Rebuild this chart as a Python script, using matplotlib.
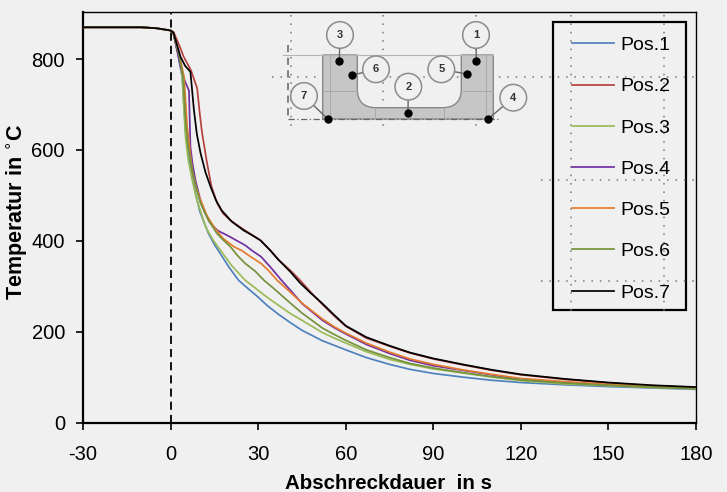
import matplotlib
matplotlib.use("Agg")
import matplotlib.pyplot as plt
from matplotlib.path import Path
from matplotlib.patches import PathPatch, Circle, Rectangle

plt.rcParams['font.family'] = ['Liberation Sans', 'DejaVu Sans']
BG = '#f0f0f0'

x_ticks = [-30, 0, 30, 60, 90, 120, 150, 180]
x_tick_labels = ['-30', '0', '30', '60', '90', '120', '150', '180']
y_ticks = [0, 200, 400, 600, 800]
labels = ['Pos.1', 'Pos.2', 'Pos.3', 'Pos.4', 'Pos.5', 'Pos.6', 'Pos.7']
colors = ['#4f81bd', '#b5413e', '#9bbb59', '#7030a0', '#e67a2e', '#76923c', '#000000']

pre_t = [-30, -10, -5, 0]
pre_T = [870, 870, 868, 863]
tail_t = [52, 56, 60, 67, 75, 82, 90, 100, 110, 120, 135, 150, 165, 180]

t1 = [1, 2.5, 4, 5.1, 6, 7.4, 8.5, 10, 11.5, 13, 15, 17, 20, 23.3, 26.5, 30, 33, 37, 41, 45]
T1 = [855, 815, 760, 640, 590, 540, 505, 465, 440, 416, 392, 372, 342, 313, 295, 276, 258, 238, 220, 203]
tail1 = [180, 170, 160, 143, 128, 117, 108, 100, 93, 88, 83, 79, 76, 73]

t2 = [1, 3, 4.5, 7, 9.1, 10, 10.8, 12.5, 14, 16, 18, 20.5, 25, 30.8, 34, 37, 41, 44.4, 48]
T2 = [860, 830, 805, 775, 736, 680, 637, 571, 520, 482, 460, 445, 425, 401, 380, 358, 335, 313, 287]
tail2 = [260, 235, 212, 186, 168, 153, 140, 127, 115, 105, 95, 87, 81, 77]

t3 = [1, 2.5, 4, 5.1, 6, 7.4, 9, 12, 14.5, 17, 21, 25.6, 30, 33, 37, 41, 45]
T3 = [855, 815, 761, 629, 580, 534, 490, 431, 402, 380, 345, 313, 291, 276, 258, 240, 225]
tail3 = [198, 186, 175, 156, 139, 128, 118, 109, 100, 92, 85, 81, 77, 74]

t4 = [1, 3.4, 5, 6.3, 6.8, 7.5, 8.5, 10, 11.4, 13.5, 16, 20, 25.6, 28, 31, 34.5, 38, 41.5, 45]
T4 = [855, 783, 750, 731, 607, 570, 534, 495, 467, 440, 423, 410, 390, 378, 365, 340, 313, 288, 262]
tail4 = [225, 209, 195, 172, 152, 137, 125, 115, 105, 95, 88, 83, 79, 75]

t5 = [1, 3, 4.6, 5.7, 7.4, 8.8, 10.3, 12.5, 14.8, 18, 21.7, 24.5, 27.4, 31, 33.5, 36.5, 40, 45]
T5 = [857, 810, 761, 651, 556, 518, 489, 455, 431, 405, 387, 378, 365, 350, 335, 313, 293, 263]
tail5 = [228, 211, 197, 175, 155, 140, 128, 116, 106, 97, 90, 84, 80, 76]

t6 = [1, 3, 4.3, 5.1, 6, 7.4, 8.8, 10.3, 13, 15.9, 18, 20.5, 23, 25.6, 29, 32, 35, 38, 41, 45]
T6 = [857, 805, 761, 665, 610, 556, 515, 482, 445, 416, 402, 387, 367, 350, 333, 313, 297, 280, 263, 241]
tail6 = [208, 194, 181, 160, 143, 130, 120, 110, 101, 94, 87, 82, 78, 75]

t7 = [1, 3.4, 5, 6.8, 8, 9, 10.3, 12, 13.7, 15.5, 17.5, 21, 25, 28, 30.8, 34, 37, 41, 44.4, 48]
T7 = [858, 805, 785, 772, 688, 635, 592, 550, 519, 490, 467, 442, 423, 412, 401, 380, 358, 332, 307, 285]
tail7 = [262, 237, 213, 188, 169, 154, 141, 128, 116, 106, 96, 88, 82, 78]

fig = plt.figure(figsize=(7.27, 4.92), dpi=100, facecolor=BG)
ax = fig.add_axes([83 / 727, 1 - 422.5 / 492, (696 - 83) / 727, (422.5 - 12.3) / 492], facecolor=BG)

series = [(t1, T1, tail1), (t2, T2, tail2), (t3, T3, tail3), (t4, T4, tail4),
          (t5, T5, tail5), (t6, T6, tail6), (t7, T7, tail7)]
for (t, T, tail), c, lab in zip(series, colors, labels):
    ax.plot(pre_t + t + tail_t, pre_T + T + tail, color=c, lw=1.25, label=lab, zorder=3,
            solid_joinstyle='round')

ax.axvline(0, color='black', lw=1.3, dashes=(4.5, 2.8), zorder=4)
ax.set_xlim(-30, 180)
ax.set_ylim(0, 903)
ax.set_xticks(x_ticks, x_tick_labels)
ax.set_yticks(y_ticks)
ax.tick_params(axis='both', labelsize=14.5, length=5, width=1.2, color='black')
ax.tick_params(axis='x', pad=11)
ax.tick_params(axis='y', pad=8)
for side, lw in (('left', 1.6), ('bottom', 1.6), ('top', 1.0), ('right', 1.0)):
    ax.spines[side].set_linewidth(lw)
ax.set_xlabel('Abschreckdauer  in s', fontsize=14.8, fontweight='bold', va='center')
ax.xaxis.set_label_coords(0.498, -0.1475)
ax.set_ylabel('Temperatur in $^{\\circ}$C', fontsize=15.5, fontweight='bold', va='center')
ax.yaxis.set_label_coords(-0.107, 0.513)

# page overlay in pixel coordinates: dotted guides and the specimen sketch
ov = fig.add_axes([0, 0, 1, 1], facecolor='none', zorder=5)
ov.set_xlim(0, 727)
ov.set_ylim(492, 0)
ov.axis('off')
ov.add_patch(Rectangle((553, 22), 133, 288, facecolor=BG, edgecolor='black', lw=1.6, zorder=0))
dot = dict(color='#777777', lw=1.1, dashes=(1, 4.5), zorder=1)
for x in (291, 383, 476):
    ov.plot([x, x], [15, 131], **dot)
for x in (571, 664):
    ov.plot([x, x], [15, 316], **dot)
ov.plot([272, 696], [77, 77], **dot)
ov.plot([541, 696], [179.5, 179.5], **dot)
ov.plot([541, 696], [280.5, 280.5], **dot)

verts = [(322.7, 55), (357.3, 55), (357.3, 89), (357.3, 107.7), (376, 107.7), (442, 107.7),
         (461.3, 107.7), (461.3, 89), (461.3, 55), (493.3, 55), (493.3, 119), (322.7, 119), (322.7, 55)]
codes = [Path.MOVETO, Path.LINETO, Path.LINETO, Path.CURVE3, Path.CURVE3, Path.LINETO,
         Path.CURVE3, Path.CURVE3, Path.LINETO, Path.LINETO, Path.LINETO, Path.LINETO, Path.CLOSEPOLY]
ov.add_patch(PathPatch(Path(verts, codes), facecolor='#c6c6c6', edgecolor='#888888', lw=1.0, zorder=2))
ov.plot([283, 493], [55, 55], color='#b5b5b5', lw=0.8, zorder=2)
for seg in ([(330, 55), (330, 119)], [(486, 55), (486, 119)], [(323, 91), (357, 91)], [(461, 91), (493, 91)],
            [(375, 108), (375, 119)], [(444, 108), (444, 119)]):
    ov.plot(*zip(*seg), color='#aaaaaa', lw=0.7, zorder=2)
ov.plot([288, 500], [119, 119], color='#666666', lw=0.9, dashes=(5, 2, 1, 2), zorder=3)
ov.plot([288, 288], [45, 119], color='#777777', lw=1.3, dashes=(4, 3), zorder=3)

callouts = [('1', (476.3, 60.7), (476, 35)), ('2', (408, 113), (408.3, 86.7)), ('3', (339.3, 60.7), (340, 35)),
            ('4', (488, 119), (513.3, 97.7)), ('5', (467, 74), (441.3, 69.3)), ('6', (351.7, 75.3), (376, 69.3)),
            ('7', (327.7, 119), (304, 96))]
for name, d, c in callouts:
    ov.plot([d[0], c[0]], [d[1], c[1]], color='#666666', lw=1.0, zorder=3)
    ov.plot(*d, 'o', color='black', ms=5, zorder=4)
    ov.add_patch(Circle(c, 13.3, facecolor=BG, edgecolor='#8c8c8c', lw=1.1, zorder=4))
    ov.text(c[0], c[1], name, ha='center', va='center', fontsize=8, fontweight='bold', color='#333333', zorder=5)

leg = ov.legend(*ax.get_legend_handles_labels(), loc='upper left',
                bbox_to_anchor=(572 / 727, 1 - 36.5 / 492), borderaxespad=0, borderpad=0, fontsize=14,
                labelspacing=1.215, handlelength=2.16, handletextpad=0.31, frameon=False)
leg.set_zorder(3)

fig.savefig('out.png', dpi=100, facecolor=BG)
